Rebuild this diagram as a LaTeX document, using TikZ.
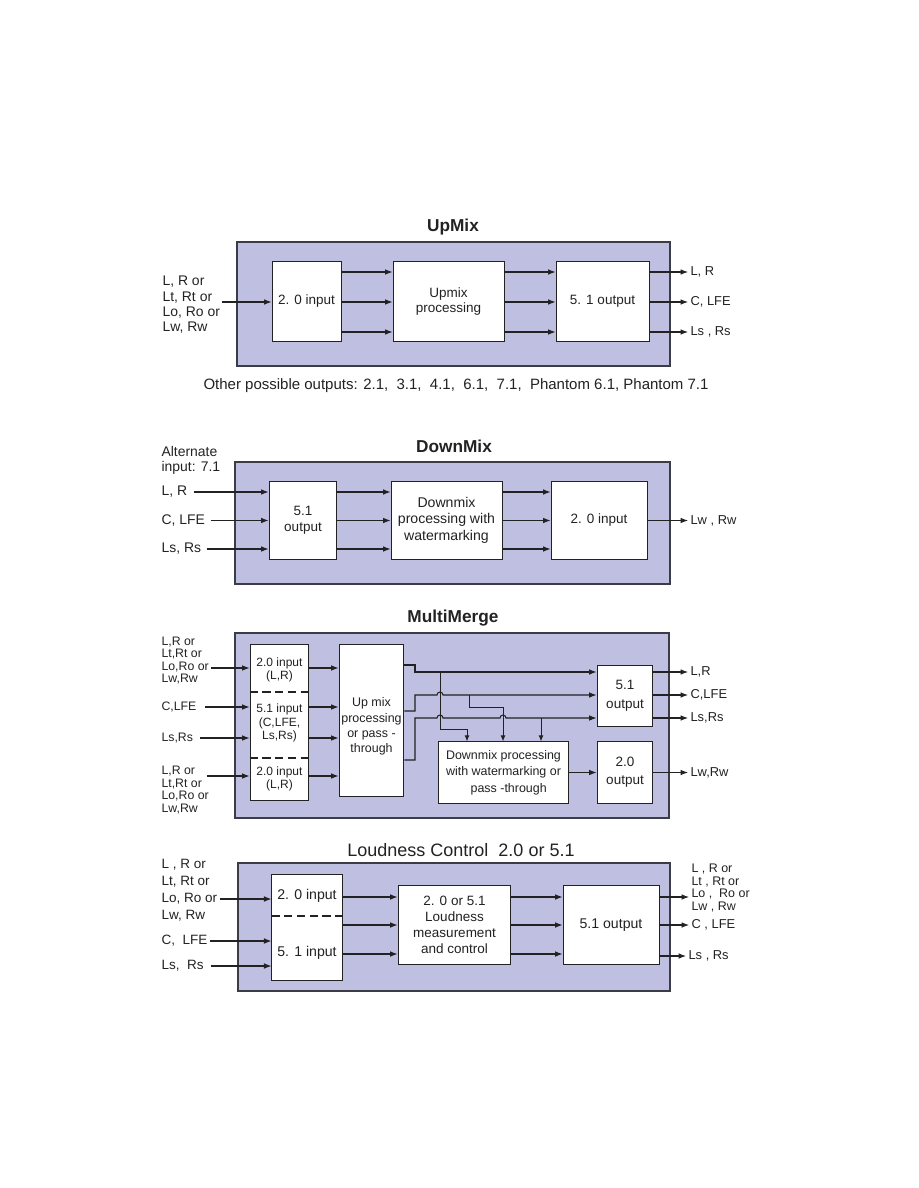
\documentclass[tikz,border=0pt]{standalone}
\usepackage{fontspec}
\setmainfont{Liberation Sans}
\usepackage{xcolor}
\usepackage{tikz}
\usetikzlibrary{positioning, arrows.meta}
\definecolor{panelblue}{HTML}{BFBFE1}
\definecolor{edgegray}{HTML}{3C3C46}
\definecolor{inkgray}{HTML}{222222}

\tikzset{
  panel/.style={draw=edgegray, fill=panelblue, line width=0.85pt, inner sep=0pt},
  blk/.style={draw=inkgray, fill=white, line width=0.65pt, inner sep=1pt, align=center,
              text=inkgray, font=\fontsize{9}{10.5}\selectfont},
  lbl/.style={align=left, inner sep=1.5pt, text=inkgray, font=\fontsize{9.3}{10.2}\selectfont},
  slbl/.style={lbl, font=\fontsize{8.2}{8.4}\selectfont},
  mtxt/.style={align=center, inner sep=0pt, text=inkgray},
  ttl/.style={text=inkgray, font=\bfseries\fontsize{11.5}{13}\selectfont},
  arr/.style={-{Latex[length=5pt,width=3.8pt]}, line width=0.7pt, inkgray},
  sarr/.style={-{Latex[length=4pt,width=3.2pt]}, line width=0.6pt, inkgray},
  dsh/.style={dash pattern=on 5.5pt off 3pt, line width=1.2pt, inkgray},
}

\begin{document}
\begin{tikzpicture}[x=0.6667pt, y=-0.6667pt]
\useasboundingbox (0,0) rectangle (918,1188);

% ---------------- UpMix
\node[ttl] (uttl) at (453,227) {UpMix};
\node[panel, minimum width=288.7pt, minimum height=82.7pt] (upanel) at (453.5,304) {};
\node[blk, minimum width=46pt, minimum height=52.7pt] (uin) at (306.5,301.5) {2. 0 input};
\node[blk, minimum width=74pt, minimum height=52.7pt] (uproc) at (448.5,301.5) {Upmix\\processing};
\node[blk, minimum width=62pt, minimum height=52.7pt] (uout) at (602.5,301.5) {5. 1 output};
\coordinate (ur1) at (0,272);
\coordinate (ur2) at (0,302);
\coordinate (ur3) at (0,332);
\node[lbl, anchor=west] (uinlbl) at (160,305) {L, R or\\Lt, Rt or\\Lo, Ro or\\Lw, Rw};
\draw[arr] (uinlbl.east |- ur2) -- (uin.west |- ur2);
\foreach \r in {ur1,ur2,ur3}{
  \draw[arr] (uin.east |- \r) -- (uproc.west |- \r);
  \draw[arr] (uproc.east |- \r) -- (uout.west |- \r);
}
\node[lbl, anchor=west, font=\fontsize{8.6}{10}\selectfont] (uo1) at (688,272) {L, R};
\node[lbl, anchor=west, font=\fontsize{8.6}{10}\selectfont] (uo2) at (688,302) {C, LFE};
\node[lbl, anchor=west, font=\fontsize{8.6}{10}\selectfont] (uo3) at (688,332) {Ls , Rs};
\draw[arr] (uout.east |- ur1) -- (uo1.west);
\draw[arr] (uout.east |- ur2) -- (uo2.west);
\draw[arr] (uout.east |- ur3) -- (uo3.west);
\node[lbl, font=\fontsize{10}{12}\selectfont] (unote) at (456,386)
  {Other possible outputs: 2.1,\ \ 3.1,\ \ 4.1,\ \ 6.1,\ \ 7.1,\ \ Phantom 6.1, Phantom 7.1};

% ---------------- DownMix
\node[ttl] (dttl) at (454,446) {DownMix};
\node[lbl, anchor=west] (dalt) at (159,460.5) {Alternate\\input: 7.1};
\node[panel, minimum width=290pt, minimum height=81.3pt] (dpanel) at (452.5,523) {};
\node[blk, minimum width=45.3pt, minimum height=52pt] (din) at (303,520) {5.1\\output};
\node[blk, minimum width=74pt, minimum height=52pt, font=\fontsize{9.4}{11}\selectfont] (dproc) at (446.5,520)
  {Downmix\\processing with\\watermarking};
\node[blk, minimum width=64pt, minimum height=52pt] (dout) at (599,520) {2. 0 input};
\coordinate (dr1) at (0,492);
\coordinate (dr2) at (0,520.5);
\coordinate (dr3) at (0,549);
\node[lbl, anchor=west] (di1) at (159,492) {L, R};
\node[lbl, anchor=west] (di2) at (159,520.5) {C, LFE};
\node[lbl, anchor=west] (di3) at (159,549) {Ls, Rs};
\draw[arr] ([xshift=3pt]di1.east) -- (din.west |- dr1);
\draw[arr] ([xshift=2pt]di2.east) -- (din.west |- dr2);
\draw[arr] ([xshift=2pt]di3.east) -- (din.west |- dr3);
\foreach \r in {dr1,dr2,dr3}{
  \draw[arr] (din.east |- \r) -- (dproc.west |- \r);
  \draw[arr] (dproc.east |- \r) -- (dout.west |- \r);
}
\node[lbl, anchor=west, font=\fontsize{8.6}{10}\selectfont] (do1) at (688,520.5) {Lw , Rw};
\draw[arr] (dout.east |- dr2) -- (do1.west);

% ---------------- MultiMerge
\node[ttl] (mttl) at (453,618) {MultiMerge};
\node[panel, minimum width=289.3pt, minimum height=123.3pt] (mpanel) at (452,725.5) {};
\node[blk, minimum width=39.3pt, minimum height=104pt] (mcol) at (279.5,722) {};
\node[mtxt, font=\fontsize{8}{8.8}\selectfont] (mc1) at (279.5,670) {2.0 input\\(L,R)};
\node[mtxt, font=\fontsize{8}{8.8}\selectfont] (mc2) at (279.5,723) {5.1 input\\(C,LFE,\\Ls,Rs)};
\node[mtxt, font=\fontsize{8}{8.8}\selectfont] (mc3) at (279.5,778.5) {2.0 input\\(L,R)};
\coordinate (mdash1) at (0,692);
\coordinate (mdash2) at (0,758);
\draw[dsh] (mcol.west |- mdash1) -- (mcol.east |- mdash1);
\draw[dsh] (mcol.west |- mdash2) -- (mcol.east |- mdash2);
\node[blk, minimum width=43.3pt, minimum height=100.7pt] (mup) at (371.5,720.5) {};
\node[mtxt, font=\fontsize{8.3}{10.3}\selectfont] (muptxt) at (371.5,726.5) {Up mix\\processing\\or pass -\\through};
\node[blk, minimum width=87.3pt, minimum height=40.7pt, font=\fontsize{8.3}{11}\selectfont] (mdmx) at (503.5,772.5)
  {Downmix processing\\with watermarking or\\\ \ \ pass -through};
\node[blk, minimum width=37.3pt, minimum height=41.3pt, font=\fontsize{9}{13}\selectfont] (m51) at (625,696) {5.1\\output};
\node[blk, minimum width=37.3pt, minimum height=40.7pt, font=\fontsize{9}{12}\selectfont] (m20) at (625,772.5) {2.0\\output};
% input side
\node[slbl, anchor=west] (mi1) at (159,660.5) {L,R or\\Lt,Rt or\\Lo,Ro or\\Lw,Rw};
\node[slbl, anchor=west] (mi2) at (159,707) {C,LFE};
\node[slbl, anchor=west] (mi3) at (159,738) {Ls,Rs};
\node[slbl, anchor=west] (mi4) at (159,790) {L,R or\\Lt,Rt or\\Lo,Ro or\\Lw,Rw};
\coordinate (mr0a) at (0,668);
\coordinate (mr0b) at (0,707);
\coordinate (mr0c) at (0,738);
\coordinate (mr0d) at (0,776);
\draw[arr] (mi1.east |- mr0a) -- (mcol.west |- mr0a);
\draw[arr] ([xshift=4pt]mi2.east) -- (mcol.west |- mr0b);
\draw[arr] ([xshift=3pt]mi3.east) -- (mcol.west |- mr0c);
\draw[arr] ([xshift=-3pt]mi4.east |- mr0d) -- (mcol.west |- mr0d);
\foreach \r in {mr0a,mr0b,mr0c,mr0d}
  \draw[arr] (mcol.east |- \r) -- (mup.west |- \r);
% busses to 5.1 output
\coordinate (mstep) at (415,0);
\coordinate (mo1) at (0,665);
\coordinate (mo2) at (0,711);
\coordinate (mo3) at (0,760);
\coordinate (mr1) at (0,672);
\coordinate (mr2) at (0,695);
\coordinate (mr3) at (0,718);
\coordinate (mtapa) at (440,729);
\coordinate (mtapa2) at (467,729);
\coordinate (mtapb) at (469,707);
\coordinate (mtapb2) at (503,707);
\coordinate (mtapc) at (541,0);
\draw[arr] (mup.east |- mo1) -- (mstep |- mo1) -- (mstep |- mr1) -- (m51.west |- mr1);
\draw[arr] (mup.east |- mo2) -- (mstep |- mo2) -- (mstep |- mr2)
  -- ([xshift=-2pt]mtapa |- mr2) arc[start angle=180, end angle=0, radius=2pt]
  -- (m51.west |- mr2);
\draw[arr] (mup.east |- mo3) -- (mstep |- mo3) -- (mstep |- mr3)
  -- ([xshift=-2pt]mtapa |- mr3) arc[start angle=180, end angle=0, radius=2pt]
  -- ([xshift=-2pt]mtapb2 |- mr3) arc[start angle=180, end angle=0, radius=2pt]
  -- (m51.west |- mr3);
% taps to downmix
\draw[sarr] (mtapa |- mr1) -- (mtapa) -- (mtapa2) -- (mtapa2 |- mdmx.north);
\draw[sarr] (mtapb |- mr2) -- (mtapb) -- (mtapb2) -- (mtapb2 |- mdmx.north);
\draw[sarr] (mtapc |- mr3) -- (mtapc |- mdmx.north);
\draw[arr] (mdmx.east) -- (m20.west);
% outputs
\node[slbl, anchor=west, font=\fontsize{8.6}{10}\selectfont] (mq1) at (688,672) {L,R};
\node[slbl, anchor=west, font=\fontsize{8.6}{10}\selectfont] (mq2) at (688,695) {C,LFE};
\node[slbl, anchor=west, font=\fontsize{8.6}{10}\selectfont] (mq3) at (688,718) {Ls,Rs};
\node[slbl, anchor=west, font=\fontsize{8.6}{10}\selectfont] (mq4) at (688,772.5) {Lw,Rw};
\draw[arr] (m51.east |- mr1) -- (mq1.west);
\draw[arr] (m51.east |- mr2) -- (mq2.west);
\draw[arr] (m51.east |- mr3) -- (mq3.west);
\draw[arr] (m20.east) -- (mq4.west);

% ---------------- Loudness Control
\node[text=inkgray, font=\fontsize{12}{14}\selectfont] (lttl) at (461,850) {Loudness Control\ \ 2.0 or 5.1};
\node[panel, minimum width=288pt, minimum height=85.3pt] (lpanel) at (454,927) {};
\node[blk, minimum width=46.7pt, minimum height=71.3pt] (lin) at (307,927.5) {};
\node[mtxt, font=\fontsize{9.4}{11}\selectfont] (lin1) at (307,896) {2. 0 input};
\node[mtxt, font=\fontsize{9.4}{11}\selectfont] (lin2) at (307,953) {5. 1 input};
\coordinate (ldash) at (0,916);
\draw[dsh] (lin.west |- ldash) -- (lin.east |- ldash);
\node[blk, minimum width=75.3pt, minimum height=53.3pt, font=\fontsize{9}{10.7}\selectfont] (lproc) at (454.5,925)
  {2. 0 or 5.1\\Loudness\\measurement\\and control};
\node[blk, minimum width=64pt, minimum height=53.3pt, font=\fontsize{9.4}{11}\selectfont] (lout) at (611,925) {5.1 output};
\coordinate (lr0) at (0,899);
\coordinate (lr1) at (0,897);
\coordinate (lr2) at (0,925);
\coordinate (lr3) at (0,954);
\node[lbl, anchor=west, font=\fontsize{9}{11.3}\selectfont] (li1) at (159,890.5) {L , R or\\Lt, Rt or\\Lo, Ro or\\Lw, Rw};
\node[lbl, anchor=west, font=\fontsize{9}{11.3}\selectfont] (li2) at (159,941) {C,\ \ LFE};
\node[lbl, anchor=west, font=\fontsize{9}{11.3}\selectfont] (li3) at (159,966) {Ls,\ \ Rs};
\draw[arr] (li1.east |- lr0) -- (lin.west |- lr0);
\draw[arr] (li2.east) -- (lin.west |- li2);
\draw[arr] ([xshift=3pt]li3.east) -- (lin.west |- li3);
\foreach \r in {lr1,lr2,lr3}{
  \draw[arr] (lin.east |- \r) -- (lproc.west |- \r);
  \draw[arr] (lproc.east |- \r) -- (lout.west |- \r);
}
\node[lbl, anchor=west, font=\fontsize{8.3}{8.5}\selectfont] (lq1) at (689,888) {L , R or\\Lt , Rt or\\Lo ,\ \ Ro or\\Lw , Rw};
\node[lbl, anchor=west, font=\fontsize{8.6}{10}\selectfont] (lq2) at (689,925) {C , LFE};
\node[lbl, anchor=west, font=\fontsize{8.6}{10}\selectfont] (lq3) at (686,956) {Ls , Rs};
\draw[arr] (lout.east |- lr1) -- (lq1.west |- lr1);
\draw[arr] (lout.east |- lr2) -- (lq2.west);
\draw[arr] (lout.east |- lq3) -- (lq3.west);
\end{tikzpicture}
\end{document}
